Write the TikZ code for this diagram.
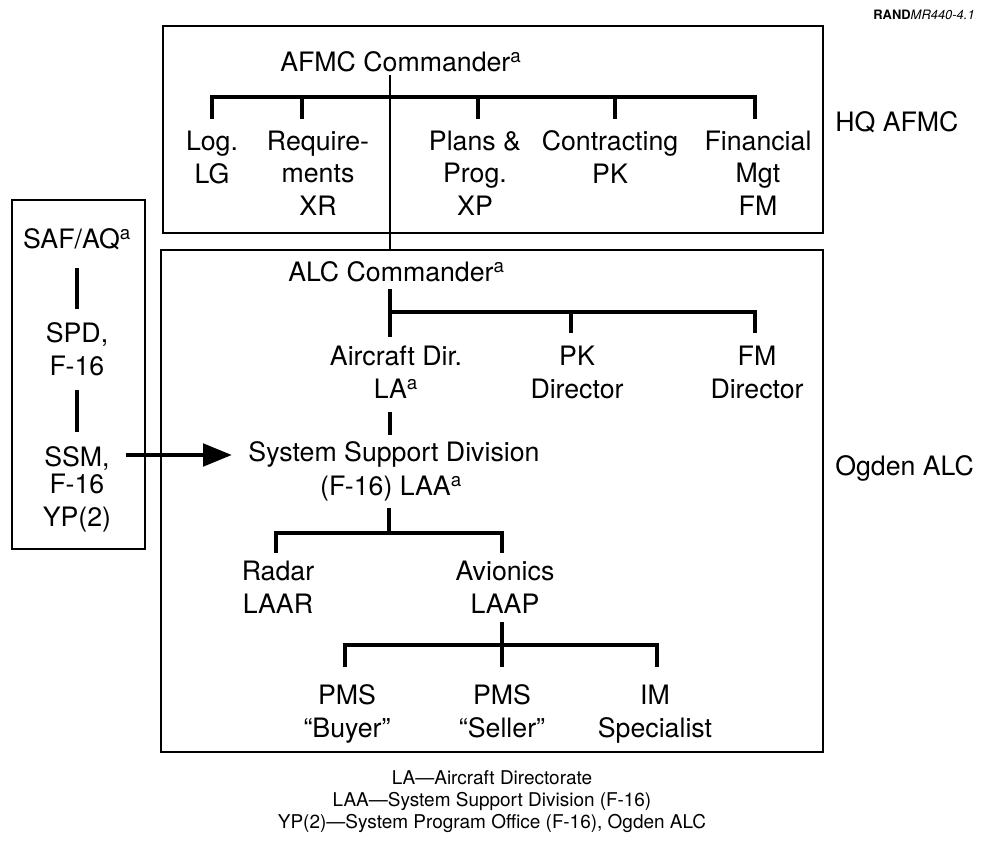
\documentclass[tikz,border=0pt]{standalone}
\usepackage{fontspec}
\setmainfont{TeX Gyre Heros}
\usetikzlibrary{arrows.meta}
\newcommand\mainfnt{\fontsize{19pt}{23pt}\selectfont}
\newcommand\legfnt{\fontsize{13.5pt}{15.6pt}\selectfont}
\newcommand\randfnt{\fontsize{9.2pt}{11pt}\selectfont}
\newcommand\supa{\textsuperscript{a}}
\begin{document}
\begin{tikzpicture}[x=0.025cm,y=-0.025cm,
  box/.style={draw, line width=1.3pt},
  bar/.style={line width=2.8pt, line join=miter, line cap=butt},
  midline/.style={line width=2.1pt},
  lbl/.style={inner sep=0pt, align=center, font=\mainfnt,
    execute at begin node=\strut, execute at end node=\strut},
  arr/.style={line width=2.8pt, -{Triangle[length=0.72cm,width=0.56cm]}}
]
\useasboundingbox (0,0) rectangle (981,847);

\node[inner sep=0pt, anchor=east, font=\randfnt] (rand) at (975,15) {\textbf{RAND}\textit{MR440-4.1}};

% boxes
\draw[box] (163,26) rectangle (823,233);
\draw[box] (161,250) rectangle (823,752);
\draw[box] (12,200) rectangle (145,549);

% side labels
\node[lbl, anchor=west] (hq) at (835,125) {HQ AFMC};
\node[lbl, anchor=west] (ogden) at (835,469) {Ogden ALC};

% HQ AFMC
\node[lbl, anchor=west] (afmc) at (280,65) {AFMC Commander\supa};
\node[lbl] (log) at (212,162) {Log.\\LG};
\node[lbl] (req) at (318,178) {Require-\\ments\\XR};
\node[lbl] (plans) at (475,178) {Plans \&\\Prog.\\XP};
\node[lbl] (contr) at (610,162) {Contracting\\PK};
\node[lbl] (fin) at (758,178) {Financial\\Mgt\\FM};

\coordinate (hqL) at (212,97);
\coordinate (hqR) at (755,97);
\coordinate (hqtop) at (390,75);
\coordinate (hqbot) at (390,250);
\draw[bar] ([yshift=-22*0.025cm]hqL) -- (hqL) -- (hqR) -- ([yshift=-22*0.025cm]hqR);
\draw[bar] (302,97) -- (302,119);
\draw[bar] (478,97) -- (478,119);
\draw[bar] (615,97) -- (615,119);
\draw[midline] (hqtop) -- (hqbot);

% Ogden ALC
\node[lbl, anchor=west] (alc) at (288,275) {ALC Commander\supa};
\node[lbl] (acd) at (396,377) {Aircraft Dir.\\LA\supa};
\node[lbl] (pkd) at (577,377) {PK\\Director};
\node[lbl] (fmd) at (757,377) {FM\\Director};
\draw[bar] (390,289) -- (390,337);
\draw[bar] (390,312) -- (755,312) -- (755,333);
\draw[bar] (571,312) -- (571,333);

\draw[bar] (390,412) -- (390,435);
\node[lbl] (ssd) at (394,455) {System Support Division};
\node[lbl] (laa) at (391,489) {(F-16) LAA\supa};

\draw[bar] (389,508) -- (389,533);
\draw[bar] (276,553) -- (276,533) -- (502,533) -- (502,553);
\node[lbl] (radar) at (278,592) {Radar\\LAAR};
\node[lbl] (avion) at (505,592) {Avionics\\LAAP};

\draw[bar] (502,622) -- (502,667);
\draw[bar] (345,667) -- (345,645) -- (657,645) -- (657,667);
\node[lbl] (buyer) at (347,716) {PMS\\“Buyer”};
\node[lbl] (seller) at (502,716) {PMS\\“Seller”};
\node[lbl] (imsp) at (655,716) {IM\\Specialist};

% left box
\node[lbl] (saf) at (77,242) {SAF/AQ\supa};
\draw[bar] (77,268) -- (77,309);
\node[lbl] (spd) at (77,354) {SPD,\\F-16};
\draw[bar] (77,390) -- (77,432);
\node[lbl] (ssm) at (77,460) {SSM,};
\node[lbl] (fyp) at (77,505) {F-16\\YP(2)};

\draw[arr, shorten <=0.4cm, shorten >=0.41cm] (ssm.east |- ssd.west) -- (ssd.west);

% legend
\node[inner sep=0pt, align=center, font=\legfnt] (legend) at (492,802)
  {LA—Aircraft Directorate\\LAA—System Support Division (F-16)\\YP(2)—System Program Office (F-16), Ogden ALC};
\end{tikzpicture}
\end{document}
